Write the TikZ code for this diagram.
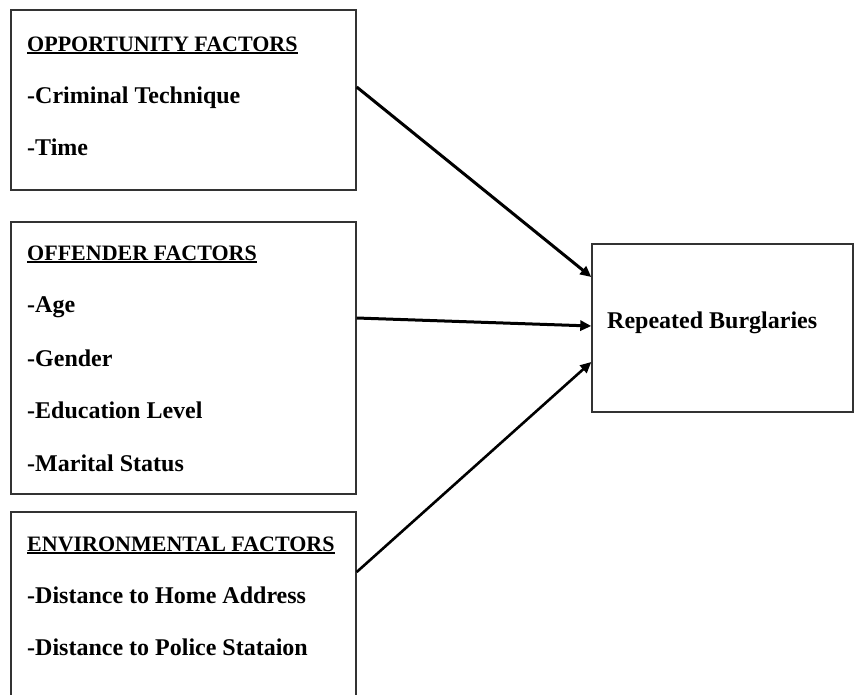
\documentclass[tikz,border=0pt]{standalone}
\usepackage{fontspec}
\setmainfont{Liberation Serif}
\usetikzlibrary{arrows.meta}
\tikzset{
  factorbox/.style={draw=black!80, line width=1.4pt, rectangle, inner sep=0pt},
  hdr/.style={anchor=base west, inner sep=0pt, font=\fontsize{22}{22}\selectfont\bfseries},
  item/.style={anchor=base west, inner sep=0pt, font=\fontsize{24}{24}\selectfont\bfseries},
  link/.style={line width=3pt, -{Triangle[length=11pt,width=10pt]}},
}
\newcommand{\hdrline}[1]{\setbox0\hbox{#1}\rlap{\rule[-3.4pt]{\wd0}{2pt}}\box0}
\begin{document}
\begin{tikzpicture}[x=1pt,y=-1pt]
\useasboundingbox (0,0) rectangle (854,694);
\node[factorbox, minimum width=345pt, minimum height=180pt] (b1) at (183.5,100) {};
\node[factorbox, minimum width=345pt, minimum height=272pt] (b2) at (183.5,358) {};
\node[factorbox, minimum width=345pt, minimum height=208pt] (b3) at (183.5,616) {};
\node[factorbox, minimum width=261pt, minimum height=168pt] (b4) at (722.5,328) {};

\node[hdr] (h1) at (27,51) {\hdrline{OPPORTUNITY FACTORS}};
\node[item] (t11) at (27,103) {-Criminal Technique};
\node[item] (t12) at (27,155) {-Time};

\node[hdr] (h2) at (27,260) {\hdrline{OFFENDER FACTORS}};
\node[item] (t21) at (27,312) {-Age};
\node[item] (t22) at (27,366) {-Gender};
\node[item] (t23) at (27,418) {-Education Level};
\node[item] (t24) at (27,471) {-Marital Status};

\node[hdr] (h3) at (27,551) {\hdrline{ENVIRONMENTAL FACTORS}};
\node[item] (t31) at (27,603) {-Distance to Home Address};
\node[item] (t32) at (27,655) {-Distance to Police Stataion};

\node[item] (r) at (607,328) {Repeated Burglaries};

\draw[link] ([yshift=13pt]b1.east) -- ([yshift=51pt]b4.west);
\draw[link] ([yshift=40pt]b2.east) -- ([yshift=2pt]b4.west);
\draw[link, line width=2.6pt] ([yshift=44pt]b3.east) -- ([yshift=-34pt]b4.west);
\end{tikzpicture}
\end{document}
